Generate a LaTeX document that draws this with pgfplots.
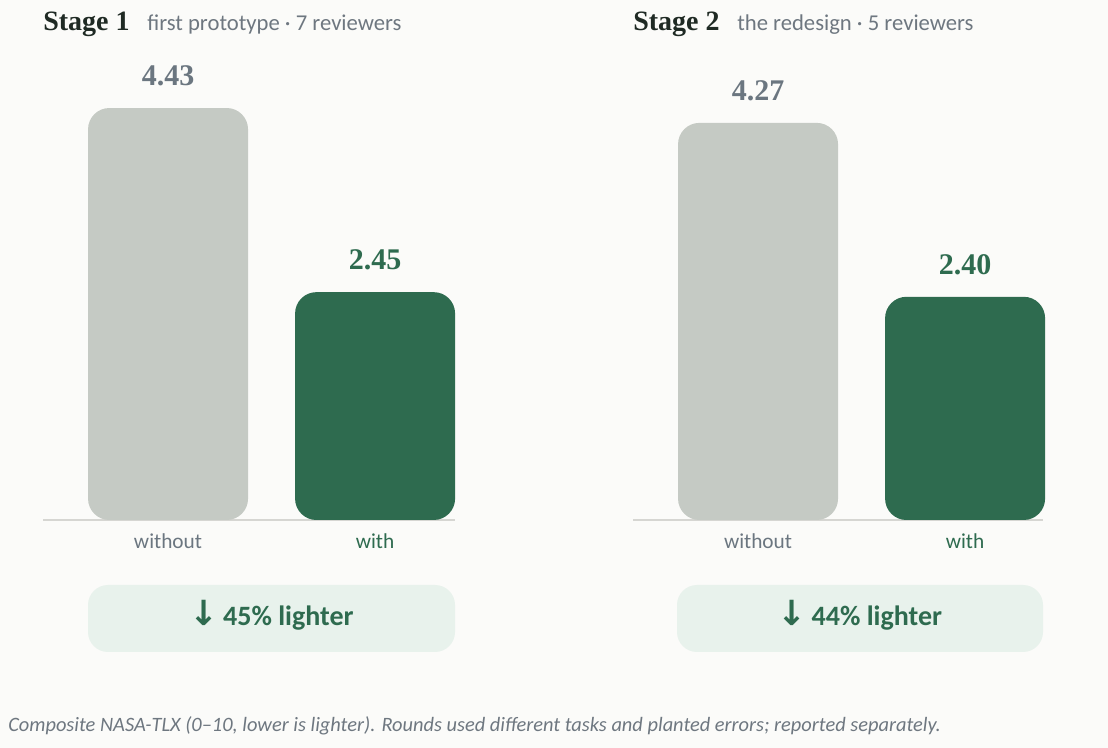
\documentclass[border=0pt]{standalone}
\usepackage{pgfplots}
\pgfplotsset{compat=1.18}
\usepackage{fontspec}
\setmainfont{Carlito}
\newfontfamily\serif{Liberation Serif}
\newfontfamily\arrowfont{DejaVu Sans}

\definecolor{bg}{HTML}{FBFBF9}
\definecolor{titlec}{HTML}{1F2A24}
\definecolor{subc}{HTML}{6E7780}
\definecolor{labgray}{HTML}{6B7680}
\definecolor{bargray}{HTML}{C5CAC4}
\definecolor{bargreen}{HTML}{2E6B4F}
\definecolor{basec}{HTML}{D6D6D2}
\definecolor{badge}{HTML}{E8F2EC}

\pgfplotsset{
  panel/.style={
    scale only axis, width=309pt, height=348.75pt,
    anchor=south west,
    xmin=-0.604, xmax=1.386, ymin=0, ymax=5,
    ybar, bar width=120pt, bar shift=0pt,
    axis line style={draw=none}, major tick length=0pt,
    ytick=\empty, xtick={0,1},
    xticklabels={\textcolor{labgray}{without},\textcolor{bargreen}{with}},
    xticklabel style={font=\fontsize{16}{19}\selectfont, anchor=base, yshift=-21pt, inner sep=0pt},
    clip=false,
    nodes near coords={\pgfmathprintnumber[fixed,fixed zerofill,precision=2,assume math mode=true]{\pgfplotspointmeta}},
    every node near coord/.append style={font=\serif\bfseries\fontsize{22.5}{26}\selectfont, anchor=base, inner sep=0pt, yshift=17pt},
  },
  gbar/.style={draw=none, fill=bargray, rounded corners=16pt, nodes near coords style={text=labgray}},
  cbar/.style={draw=none, fill=bargreen, rounded corners=16pt, nodes near coords style={text=bargreen}},
}

\begin{document}
\begin{tikzpicture}[x=0.75pt,y=-0.75pt]
\fill[bg] (0,0) rectangle (1108,748);

% panel titles
\node[anchor=base west, inner sep=0pt, text=titlec, font=\serif\bfseries\fontsize{21}{24}\selectfont] at (43,31) {Stage 1};
\node[anchor=base west, inner sep=0pt, text=subc, font=\fontsize{17}{20}\selectfont] at (147,31) {first prototype · 7 reviewers};
\node[anchor=base west, inner sep=0pt, text=titlec, font=\serif\bfseries\fontsize{21}{24}\selectfont] at (633,31) {Stage 2};
\node[anchor=base west, inner sep=0pt, text=subc, font=\fontsize{17}{20}\selectfont] at (737,31) {the redesign · 5 reviewers};

% baselines
\draw[basec, line width=1.5pt] (43,520) -- (455,520);
\draw[basec, line width=1.5pt] (633,520) -- (1043,520);

\coordinate (o1) at (43,520);
\coordinate (o2) at (633,520);

\begin{axis}[panel, at={(o1)}]
\addplot[gbar] coordinates {(0,4.43)};
\addplot[cbar] coordinates {(1,2.45)};
\end{axis}

\begin{axis}[panel, at={(o2)}]
\addplot[gbar] coordinates {(0,4.27)};
\addplot[cbar] coordinates {(1,2.40)};
\end{axis}

% badges
\fill[badge, rounded corners=15pt] (88,585) rectangle (455,652);
\fill[badge, rounded corners=15pt] (677,585) rectangle (1043,652);
\node[anchor=base, inner sep=0pt, text=bargreen, font=\bfseries\fontsize{21}{24}\selectfont] at (271.5,626) {{\arrowfont\fontsize{26}{28}\selectfont ↓}\,45\% lighter};
\node[anchor=base, inner sep=0pt, text=bargreen, font=\bfseries\fontsize{21}{24}\selectfont] at (860,626) {{\arrowfont\fontsize{26}{28}\selectfont ↓}\,44\% lighter};

% footnote
\node[anchor=base west, inner sep=0pt, text=subc, font=\itshape\fontsize{15.3}{18}\selectfont] at (8,731) {Composite NASA-TLX (0--10, lower is lighter). Rounds used different tasks and planted errors; reported separately.};
\end{tikzpicture}
\end{document}
